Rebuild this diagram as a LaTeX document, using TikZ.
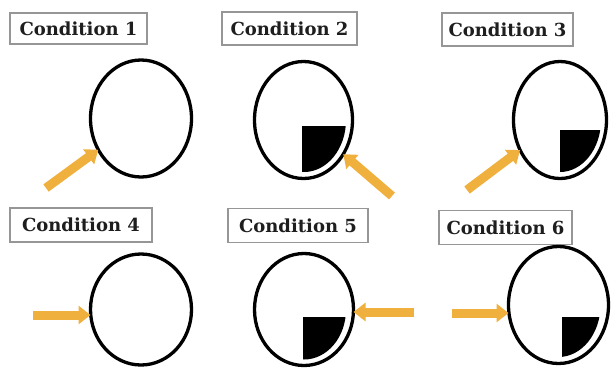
\documentclass[tikz,border=0pt]{standalone}
\usepackage{fontspec}
\setmainfont{DejaVu Serif}
\usetikzlibrary{arrows.meta,shapes.geometric}
\definecolor{arrorange}{RGB}{240,176,62}
\definecolor{boxgray}{RGB}{150,150,150}
\definecolor{txt}{RGB}{30,30,30}
\tikzset{
  lbl/.style={draw=boxgray, line width=1.6pt, fill=white, inner sep=0pt,
    minimum height=31pt, text=txt, font=\fontsize{18}{20}\selectfont\bfseries},
  ring/.style={draw=black, line width=3.3pt, ellipse, inner sep=0pt, outer sep=0pt},
  arr/.style={draw=arrorange, line width=9pt,
    -{Triangle[width=18pt,length=12pt]}},
}
\begin{document}
\begin{tikzpicture}[x=1pt,y=-1pt]
\useasboundingbox (0,0) rectangle (611,368);
% labels
\node[lbl, minimum width=137pt] (l1) at (78.5,28.5) {Condition 1};
\node[lbl, minimum width=135pt, minimum height=33pt] (l2) at (289.5,28.5) {Condition 2};
\node[lbl, minimum width=131pt, minimum height=33pt] (l3) at (507.5,29.5) {Condition 3};
\node[lbl, minimum width=142pt, minimum height=34pt] (l4) at (81,225) {Condition 4};
\node[lbl, minimum width=140pt, minimum height=34pt] (l5) at (298,225.5) {Condition 5};
\node[lbl, minimum width=133pt, minimum height=34pt] (l6) at (505.5,227.5) {Condition 6};
% quarter fills
\begin{scope}
  \clip (304,120) ellipse [x radius=42pt, y radius=52pt];
  \fill (302,126) rectangle (360,190);
\end{scope}
\begin{scope}
  \clip (560,120) ellipse [x radius=41pt, y radius=52pt];
  \fill (560,130) rectangle (615,190);
\end{scope}
\begin{scope}
  \clip (304,309.5) ellipse [x radius=42pt, y radius=50pt];
  \fill (303,317) rectangle (360,375);
\end{scope}
\begin{scope}
  \clip (558.5,305) ellipse [x radius=42pt, y radius=52pt];
  \fill (562,317) rectangle (615,375);
\end{scope}
% ellipses
\node[ring, minimum width=101pt, minimum height=117pt] (e1) at (141,118.5) {};
\node[ring, minimum width=98pt, minimum height=117pt] (e2) at (303.5,120) {};
\node[ring, minimum width=93pt, minimum height=117pt] (e3) at (560,120) {};
\node[ring, minimum width=101pt, minimum height=111pt] (e4) at (141,309.5) {};
\node[ring, minimum width=99pt, minimum height=112pt] (e5) at (304,309.5) {};
\node[ring, minimum width=100pt, minimum height=117pt] (e6) at (558.5,305) {};
% arrow tails
\coordinate (t1) at (46,188);
\coordinate (t2) at (392,196);
\coordinate (t3) at (467,190);
\coordinate (t4) at (33,315);
\coordinate (t5) at (414,312);
\coordinate (t6) at (452,313);
% arrows
\draw[arr] (t1) -- (e1);
\draw[arr] (t2) -- (e2);
\draw[arr] (t3) -- (e3);
\draw[arr] (t4) -- (t4 -| e4.west);
\draw[arr] (t5) -- (t5 -| e5.east);
\draw[arr] (t6) -- (t6 -| e6.west);
\end{tikzpicture}
\end{document}
